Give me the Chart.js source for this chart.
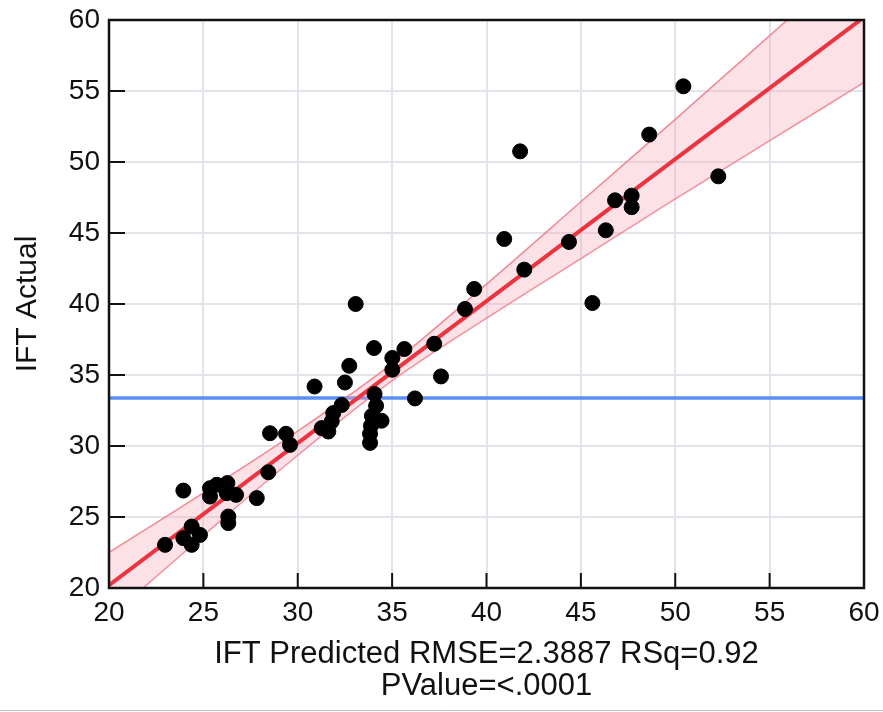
<!DOCTYPE html>
<html>
<head>
<meta charset="utf-8">
<script src="https://cdn.jsdelivr.net/npm/chart.js@4.4.1/dist/chart.umd.min.js"></script>
<style>
  html, body { margin: 0; padding: 0; background: #fff; }
  #wrap { width: 883px; height: 712px; }
</style>
</head>
<body>
<div id="wrap"><canvas id="fitChart" width="883" height="712"></canvas></div>
<script>
// IFT predicted vs actual
const predicted = [
    22.97, 23.94, 24.38, 24.38, 24.82, 23.94, 25.35, 25.71, 26.27, 25.35,
    26.24, 26.73, 26.32, 26.32, 27.83, 28.44, 28.53, 29.38, 29.59, 30.89,
    31.27, 31.62, 31.80, 31.88, 32.33, 32.50, 32.73, 33.07, 33.83, 33.83,
    33.88, 33.93, 34.44, 34.15, 34.07, 34.04, 35.01, 35.01, 35.65, 36.21,
    37.23, 37.59, 38.86, 39.35, 40.94, 42.00, 41.78, 44.37, 45.61, 46.32,
    46.81, 47.69, 47.69, 48.62, 50.43, 52.28
];
const actual = [
    23.04, 23.51, 23.04, 24.33, 23.74, 26.86, 27.03, 27.27, 27.39, 26.44,
    26.68, 26.56, 25.03, 24.57, 26.33, 28.15, 30.90, 30.86, 30.08, 34.19,
    31.26, 31.02, 31.73, 32.32, 32.89, 34.47, 35.65, 40.00, 30.22, 30.86,
    31.43, 32.12, 31.78, 32.83, 33.66, 36.90, 36.20, 35.37, 36.83, 33.35,
    37.20, 34.90, 39.65, 41.06, 44.58, 42.42, 50.75, 44.37, 40.07, 45.19,
    47.30, 47.63, 46.82, 51.93, 55.33, 48.99
];

// fit line and confidence band, read at every 5 units of x
const fitX     = [20, 25, 30, 35, 40, 45, 50, 55, 60];
const fitLine  = [20.2, 25.2, 30.2, 35.2, 40.2, 45.2, 50.2, 55.2, 60.2];
const bandHigh = [22.5, 26.7, 31.05, 35.8, 41.4, 47.2, 53.0, 58.9, 64.8];
const bandLow  = [17.9, 23.7, 29.35, 34.6, 39.0, 43.2, 47.4, 51.5, 55.6];

const meanX = [20, 60];
const meanY = [33.38, 33.38];

const tickVals = [20, 25, 30, 35, 40, 45, 50, 55, 60];

const xTitle = ['IFT Predicted RMSE=2.3887 RSq=0.92', 'PValue=<.0001'];
const yTitle = 'IFT Actual';

const FONT = '"Liberation Sans", Arial, Helvetica, sans-serif';

function pts(xs, ys) {
    return xs.map((x, i) => ({ x: x, y: ys[i] }));
}

// frame, inner tick marks and the thin rule under the picture
const framePlugin = {
    id: 'frame',
    afterDraw(chart) {
        const c = chart.ctx;
        const a = chart.chartArea;
        const xs = chart.scales.x, ys = chart.scales.y;
        c.save();
        c.strokeStyle = '#111';
        c.lineWidth = 2;
        tickVals.forEach(v => {
            const px = xs.getPixelForValue(v);
            c.beginPath();
            c.moveTo(px, a.bottom);
            c.lineTo(px, a.bottom - 15);
            c.stroke();
            const py = ys.getPixelForValue(v);
            c.beginPath();
            c.moveTo(a.left, py);
            c.lineTo(a.left + 16, py);
            c.stroke();
        });
        c.lineWidth = 2.5;
        c.strokeRect(a.left, a.top, a.right - a.left, a.bottom - a.top);
        c.strokeStyle = '#c4c4c4';
        c.lineWidth = 1;
        c.beginPath();
        c.moveTo(0, 710.5);
        c.lineTo(chart.width, 710.5);
        c.stroke();
        c.restore();
    }
};

const config = {
    type: 'scatter',
    data: {
        datasets: [
            {
                label: 'IFT',
                data: pts(predicted, actual),
                backgroundColor: '#000',
                borderColor: '#000',
                pointRadius: 7.5,
                order: 0
            },
            {
                label: 'fit',
                data: pts(fitX, fitLine),
                showLine: true,
                pointRadius: 0,
                borderColor: 'rgb(236, 52, 64)',
                borderWidth: 4,
                fill: false,
                order: 1
            },
            {
                label: 'upper',
                data: pts(fitX, bandHigh),
                showLine: true,
                pointRadius: 0,
                borderColor: 'rgba(240, 120, 132, 0.85)',
                borderWidth: 1.5,
                backgroundColor: 'rgba(246, 170, 182, 0.35)',
                cubicInterpolationMode: 'monotone',
                fill: '+1',
                order: 2
            },
            {
                label: 'lower',
                data: pts(fitX, bandLow),
                showLine: true,
                pointRadius: 0,
                borderColor: 'rgba(240, 120, 132, 0.85)',
                borderWidth: 1.5,
                cubicInterpolationMode: 'monotone',
                fill: false,
                order: 2
            },
            {
                label: 'mean',
                data: pts(meanX, meanY),
                showLine: true,
                pointRadius: 0,
                borderColor: 'rgb(92, 142, 248)',
                borderWidth: 3.5,
                fill: false,
                order: 3
            }
        ]
    },
    options: {
        responsive: false,
        animation: false,
        layout: { padding: { top: 20, right: 19, left: 0, bottom: 0 } },
        plugins: {
            legend: { display: false },
            tooltip: { enabled: false }
        },
        scales: {
            x: {
                type: 'linear',
                min: 20,
                max: 60,
                afterBuildTicks: s => { s.ticks = tickVals.map(v => ({ value: v })); },
                afterFit: s => { s.height = 124; s.paddingLeft = 0; s.paddingRight = 0; },
                border: { display: false },
                grid: { color: 'rgb(226, 228, 233)', lineWidth: 2, drawTicks: false },
                ticks: {
                    color: '#111',
                    padding: 8,
                    maxRotation: 0,
                    font: { family: FONT, size: 28 }
                },
                title: {
                    display: true,
                    text: xTitle,
                    color: '#111',
                    padding: { top: 0, bottom: 9 },
                    font: { family: FONT, size: 31, lineHeight: 1.04 }
                }
            },
            y: {
                type: 'linear',
                min: 20,
                max: 60,
                afterBuildTicks: s => { s.ticks = tickVals.map(v => ({ value: v })); },
                afterFit: s => { s.width = 109; s.paddingTop = 0; s.paddingBottom = 0; },
                border: { display: false },
                grid: { color: 'rgb(226, 228, 233)', lineWidth: 2, drawTicks: false },
                ticks: {
                    color: '#111',
                    padding: 9,
                    font: { family: FONT, size: 28 }
                },
                title: {
                    display: true,
                    text: yTitle,
                    color: '#111',
                    padding: { top: 12, bottom: 0 },
                    font: { family: FONT, size: 30, lineHeight: 1.07 }
                }
            }
        }
    },
    plugins: [framePlugin]
};

const fitChart = new Chart(document.getElementById('fitChart'), config);
</script>
</body>
</html>
